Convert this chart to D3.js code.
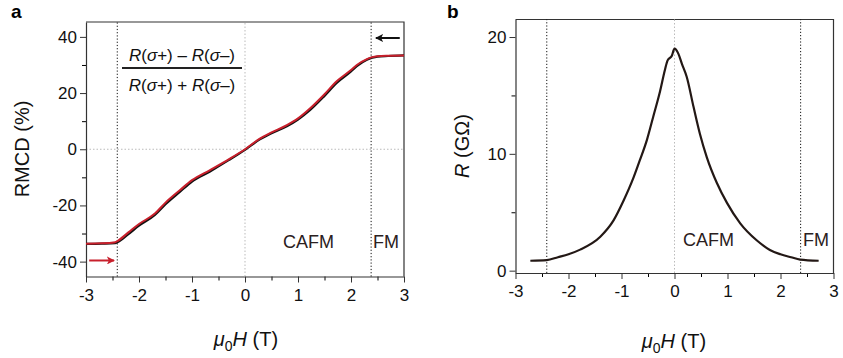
<!DOCTYPE html>
<html>
<head>
<meta charset="utf-8">
<script src="https://cdn.jsdelivr.net/npm/d3@7"></script>
<style>
  body { margin: 0; background: #fff; }
  svg { font-family: Arial, "Liberation Sans", sans-serif; }
  .tick text { font-size: 17px; fill: #111; }
</style>
</head>
<body>
<svg id="chart" width="843" height="358"></svg>
<script>
// panel a: RMCD vs field, two sweeps
var fieldA = [-3, -2.7, -2.45, -2.4, -2.2, -2.0, -1.7, -1.5, -1.23, -1.0, -0.66, -0.3, 0, 0.28, 0.5, 0.79, 1.0, 1.23, 1.5, 1.73, 2.0, 2.11, 2.3, 2.4, 2.5, 2.7, 3.0];
var rmcdUp   = [-33.6, -33.5, -33.1, -32.6, -29.6, -26.6, -22.9, -19.0, -14.6, -11.0, -7.4, -3.5, 0, 3.8, 6.0, 8.6, 11.0, 14.6, 19.6, 24.2, 28.2, 30.0, 32.1, 32.8, 33.1, 33.3, 33.4];
var rmcdDown = [-33.7, -33.6, -33.4, -33.0, -30.2, -27.2, -23.4, -19.6, -15.2, -11.5, -7.9, -3.8, -0.2, 3.5, 5.7, 8.2, 10.6, 14.0, 19.0, 23.6, 27.7, 29.6, 31.9, 32.6, 33.0, 33.2, 33.4];

// panel b: resistance vs field
var fieldB = [-2.72, -2.41, -2.2, -2.0, -1.78, -1.4, -1.15, -0.96, -0.77, -0.65, -0.52, -0.40, -0.27, -0.18, -0.13, -0.05, 0, 0.07, 0.14, 0.23, 0.36, 0.48, 0.61, 0.80, 0.99, 1.24, 1.55, 1.80, 2.0, 2.2, 2.37, 2.72];
var resist = [0.85, 0.9, 1.15, 1.4, 1.8, 2.9, 4.3, 6.0, 8.0, 9.5, 11.2, 13.2, 15.4, 17.2, 18.0, 18.4, 19.0, 18.6, 17.7, 16.6, 14.0, 11.7, 9.7, 7.5, 5.8, 4.05, 2.6, 1.77, 1.4, 1.15, 0.95, 0.85];

var xTicks = [-3, -2, -1, 0, 1, 2, 3];
var yTicksA = [-40, -20, 0, 20, 40];
var yTicksB = [0, 10, 20];
var transitions = [-2.41, 2.38];

var svg = d3.select("#chart");

function drawFrame(g, x, y, yTicks, yMinor) {
  var x0 = x.range()[0], x1 = x.range()[1];
  var y0 = y.range()[0], y1 = y.range()[1];

  // minor ticks
  var xMinor = d3.range(-2.5, 3, 1);
  g.append("g").attr("transform", "translate(0," + y0 + ")")
    .call(d3.axisBottom(x).tickValues(xMinor).tickSize(4).tickFormat(""))
    .call(function(s) { s.select(".domain").remove(); });
  g.append("g").attr("transform", "translate(" + x0 + ",0)")
    .call(d3.axisLeft(y).tickValues(yMinor).tickSize(4).tickFormat(""))
    .call(function(s) { s.select(".domain").remove(); });

  var xa = g.append("g").attr("transform", "translate(0," + y0 + ")")
    .call(d3.axisBottom(x).tickValues(xTicks).tickSize(6).tickPadding(6).tickSizeOuter(0)
      .tickFormat(d3.format("d")));
  var ya = g.append("g").attr("transform", "translate(" + x0 + ",0)")
    .call(d3.axisLeft(y).tickValues(yTicks).tickSize(6).tickPadding(3).tickSizeOuter(0)
      .tickFormat(d3.format("d")));
  [xa, ya].forEach(function(a) {
    a.selectAll("line").attr("stroke", "#333");
    a.select(".domain").attr("stroke", "#333").attr("stroke-width", 1.2);
  });
  xa.selectAll(".tick text").text(function(d) { return d < 0 ? "-" + Math.abs(d) : d; });
  ya.selectAll(".tick text").text(function(d) { return d < 0 ? "-" + Math.abs(d) : d; });

  g.append("path")
    .attr("d", "M" + x0 + "," + y1 + "H" + x1 + "V" + y0)
    .attr("fill", "none").attr("stroke", "#333").attr("stroke-width", 1.2);

  // reference lines
  g.append("line").attr("x1", x(0)).attr("x2", x(0)).attr("y1", y0).attr("y2", y1)
    .attr("stroke", "#bbb").attr("stroke-dasharray", "1.5,2");
  transitions.forEach(function(t) {
    g.append("line").attr("x1", x(t)).attr("x2", x(t)).attr("y1", y0).attr("y2", y1)
      .attr("stroke", "#111").attr("stroke-dasharray", "1.2,2");
  });
}

function xLabel(g, cx, cy) {
  var t = g.append("text").attr("x", cx).attr("y", cy).attr("text-anchor", "middle")
    .style("font-size", "20px").attr("fill", "#111");
  t.append("tspan").style("font-style", "italic").text("μ");
  t.append("tspan").attr("dy", 5).style("font-size", "14px").text("0");
  t.append("tspan").attr("dy", -5).style("font-style", "italic").text("H");
  t.append("tspan").text(" (T)");
}

// ---- panel a ----
var xa = d3.scaleLinear().domain([-3, 3]).range([86, 404]);
var ya = d3.scaleLinear().domain([-45.3, 45.3]).range([276.5, 22]);
var ga = svg.append("g");

ga.append("line").attr("x1", 86).attr("x2", 404).attr("y1", ya(0)).attr("y2", ya(0))
  .attr("stroke", "#bbb").attr("stroke-dasharray", "1.5,2");
drawFrame(ga, xa, ya, yTicksA, d3.range(-30, 40, 20));

var lineA = function(vals) {
  return d3.line().x(function(d, i) { return xa(fieldA[i]); })
    .y(function(d) { return ya(d); }).curve(d3.curveMonotoneX)(vals);
};
ga.append("path").attr("d", lineA(rmcdDown)).attr("fill", "none")
  .attr("stroke", "#111").attr("stroke-width", 2.2);
ga.append("path").attr("d", lineA(rmcdUp)).attr("fill", "none")
  .attr("stroke", "#c8202c").attr("stroke-width", 2);

// sweep arrows
var defs = svg.append("defs");
[["arrowBlack", "#111"], ["arrowRed", "#c8202c"]].forEach(function(m) {
  defs.append("marker").attr("id", m[0]).attr("viewBox", "0 0 10 10")
    .attr("refX", 9).attr("refY", 5).attr("markerWidth", 4).attr("markerHeight", 4)
    .attr("orient", "auto")
    .append("path").attr("d", "M0,0L10,5L0,10L2.5,5z").attr("fill", m[1]);
});
ga.append("line").attr("x1", xa(2.92)).attr("x2", xa(2.47)).attr("y1", ya(39.6)).attr("y2", ya(39.6))
  .attr("stroke", "#111").attr("stroke-width", 2).attr("marker-end", "url(#arrowBlack)");
ga.append("line").attr("x1", xa(-2.94)).attr("x2", xa(-2.47)).attr("y1", ya(-39.6)).attr("y2", ya(-39.6))
  .attr("stroke", "#c8202c").attr("stroke-width", 2).attr("marker-end", "url(#arrowRed)");

// formula
function sigmaTerm(t, sign) {
  t.append("tspan").style("font-style", "italic").text("R");
  t.append("tspan").text("(");
  t.append("tspan").style("font-style", "italic").text("σ");
  t.append("tspan").text(sign + ")");
}
var num = ga.append("text").attr("x", 182).attr("y", 61).attr("text-anchor", "middle")
  .style("font-size", "17px").attr("fill", "#111");
sigmaTerm(num, "+"); num.append("tspan").text(" – "); sigmaTerm(num, "–");
ga.append("line").attr("x1", 122).attr("x2", 242).attr("y1", 68).attr("y2", 68)
  .attr("stroke", "#222").attr("stroke-width", 2);
var den = ga.append("text").attr("x", 182).attr("y", 91).attr("text-anchor", "middle")
  .style("font-size", "17px").attr("fill", "#111");
sigmaTerm(den, "+"); den.append("tspan").text(" + "); sigmaTerm(den, "–");

ga.append("text").attr("x", 283).attr("y", 248).style("font-size", "18px").attr("fill", "#2a2020").text("CAFM");
ga.append("text").attr("x", 373).attr("y", 248).style("font-size", "18px").attr("fill", "#2a2020").text("FM");

ga.append("text").attr("transform", "translate(29,149) rotate(-90)").attr("text-anchor", "middle")
  .style("font-size", "20px").attr("fill", "#111").text("RMCD (%)");
xLabel(ga, 246, 346);
ga.append("text").attr("x", 11).attr("y", 18).style("font-size", "19px").style("font-weight", "bold").text("a");

// ---- panel b ----
var xb = d3.scaleLinear().domain([-3, 3]).range([515.5, 833.5]);
var yb = d3.scaleLinear().domain([-0.2, 21.5]).range([273, 19.5]);
var gb = svg.append("g");
drawFrame(gb, xb, yb, yTicksB, [5, 15]);

gb.append("path")
  .attr("d", d3.line().x(function(d, i) { return xb(fieldB[i]); })
    .y(function(d) { return yb(d); }).curve(d3.curveMonotoneX)(resist))
  .attr("fill", "none").attr("stroke", "#231815").attr("stroke-width", 2.2);

gb.append("text").attr("x", 683).attr("y", 246).style("font-size", "18px").attr("fill", "#2a2020").text("CAFM");
gb.append("text").attr("x", 803).attr("y", 246).style("font-size", "18px").attr("fill", "#2a2020").text("FM");

var yl = gb.append("text").attr("transform", "translate(469,146) rotate(-90)").attr("text-anchor", "middle")
  .style("font-size", "20px").attr("fill", "#111");
yl.append("tspan").style("font-style", "italic").text("R");
yl.append("tspan").text(" (GΩ)");
xLabel(gb, 674, 348);
gb.append("text").attr("x", 447).attr("y", 18).style("font-size", "19px").style("font-weight", "bold").text("b");
</script>
</body>
</html>
